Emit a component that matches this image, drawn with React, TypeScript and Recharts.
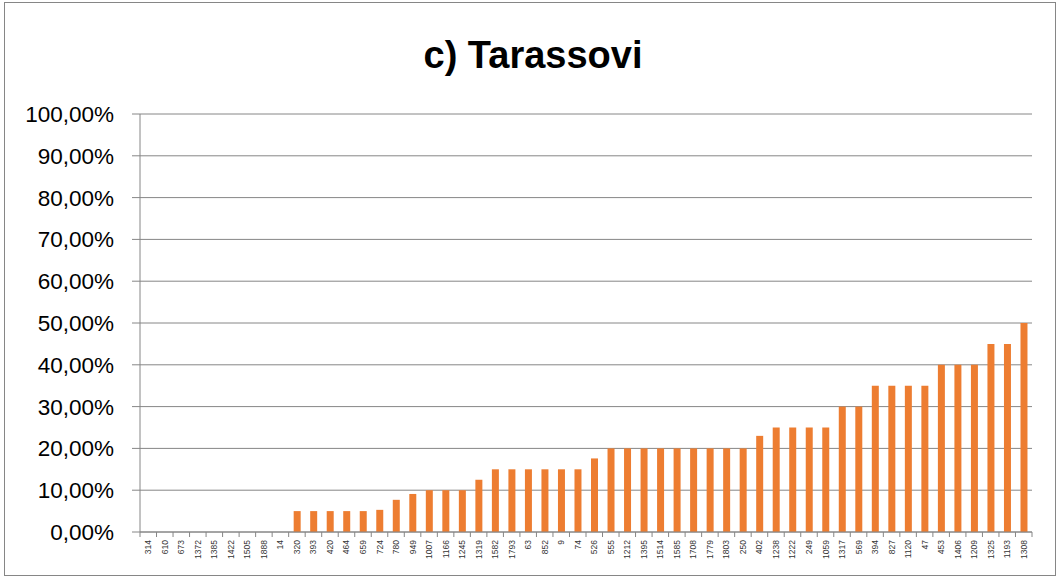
import React from 'react';
import { BarChart, Bar, XAxis, YAxis, CartesianGrid } from 'recharts';

// Serovar Tarassovi — share per sample, in percent
const samples = [
  '314', '610', '673', '1372', '1385', '1422', '1505', '1888', '14',
  '320', '393', '420', '464', '659', '724', '780', '949', '1007',
  '1166', '1245', '1319', '1582', '1793', '63', '852', '9', '74',
  '526', '555', '1212', '1395', '1514', '1585', '1708', '1779', '1803',
  '250', '402', '1238', '1222', '249', '1059', '1317', '569', '394',
  '827', '1120', '47', '453', '1406', '1209', '1325', '1193', '1308',
];

const shares = [
  0, 0, 0, 0, 0, 0, 0, 0, 0,
  5, 5, 5, 5, 5, 5.3, 7.7, 9.1, 10,
  10, 10, 12.5, 15, 15, 15, 15, 15, 15,
  17.6, 20, 20, 20, 20, 20, 20, 20, 20,
  20, 23, 25, 25, 25, 25, 30, 30, 35,
  35, 35, 35, 40, 40, 40, 45, 45, 50,
];

const yTicks = [0, 10, 20, 30, 40, 50, 60, 70, 80, 90, 100];

const data = samples.map((s, i) => ({ sample: s, share: shares[i] }));

const AXIS = '#868686';
const FONT = '"Liberation Sans", Arial, sans-serif';

const pct = (v: number) => `${v.toFixed(2).replace('.', ',')}%`;

// Excel-style category ticks: marks sit between the bars, labels read bottom-up
const SampleTick = (props: any) => {
  const { x, y, payload, index } = props;
  const half = payload?.offset ?? 8.26;
  const last = index === samples.length - 1;
  return (
    <g>
      <line x1={x - half} x2={x - half} y1={y} y2={y + 5} stroke={AXIS} />
      {last && <line x1={x + half} x2={x + half} y1={y} y2={y + 5} stroke={AXIS} />}
      <text
        x={x + 3}
        y={y + 8}
        transform={`rotate(-90 ${x + 3} ${y + 8})`}
        textAnchor="end"
        fontSize={8.5}
        fontFamily={FONT}
        fill="#333"
      >
        {payload.value}
      </text>
    </g>
  );
};

export default function App() {
  return (
    <div style={{ position: 'absolute', left: 0, top: 0, width: 1063, height: 579, background: '#fff' }}>
      <div
        style={{
          position: 'absolute', left: 4, top: 2, width: 1052, height: 574,
          border: `1px solid ${AXIS}`, boxSizing: 'border-box',
        }}
      />
      <div
        style={{
          position: 'absolute', left: 0, top: 30, width: 1066, textAlign: 'center',
          fontFamily: FONT, fontWeight: 'bold', fontSize: 38, lineHeight: '50px', color: '#000',
        }}
      >
        c) Tarassovi
      </div>
      <div style={{ position: 'absolute', left: 0, top: 0 }}>
        <BarChart
          width={1063}
          height={579}
          data={data}
          margin={{ top: 114, right: 31, bottom: 7, left: 10 }}
          barCategoryGap="58%"
        >
          <CartesianGrid vertical={false} stroke={AXIS} strokeWidth={1} />
          <XAxis
            dataKey="sample"
            interval={0}
            height={40}
            tickLine={false}
            tickSize={0}
            tickMargin={0}
            axisLine={{ stroke: AXIS }}
            tick={<SampleTick />}
          />
          <YAxis
            width={130}
            domain={[0, 100]}
            ticks={yTicks}
            interval={0}
            tickFormatter={pct}
            tickSize={8}
            tickMargin={18}
            tickLine={{ stroke: AXIS }}
            axisLine={{ stroke: AXIS }}
            tick={{ fontSize: 22.5, fontFamily: FONT, fill: '#000' }}
          />
          <Bar dataKey="share" fill="#ED7D31" barSize={7} isAnimationActive={false} />
        </BarChart>
      </div>
    </div>
  );
}
